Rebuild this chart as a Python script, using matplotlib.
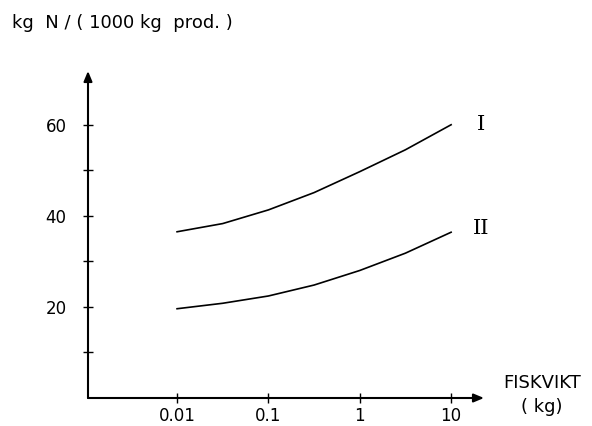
import matplotlib
matplotlib.use("Agg")
import matplotlib.pyplot as plt
import numpy as np

# data
fish_weight = [0.01, 0.0316, 0.1, 0.316, 1, 3.16, 10]
curve_I = [36.5, 38.3, 41.3, 45.1, 49.7, 54.5, 60.0]
curve_II = [19.6, 20.8, 22.4, 24.8, 28.0, 31.8, 36.4]
x_ticks = [0.01, 0.1, 1, 10]
x_tick_labels = ["0.01", "0.1", "1", "10"]
y_ticks = [10, 20, 30, 40, 50, 60]
y_tick_labels = ["", "20", "", "40", "", "60"]

fig = plt.figure(figsize=(5.92, 4.26), dpi=100)
ax = fig.add_axes([88/592, 1-398/426, (484-88)/592, (398-71)/426])

ax.set_xscale("log")
ax.set_xlim(10**-2.975, 10**1.36)
ax.set_ylim(0, 71.8)

ax.plot(fish_weight, curve_I, color="black", lw=1.2)
ax.plot(fish_weight, curve_II, color="black", lw=1.2)

for s in ax.spines.values():
    s.set_visible(False)

arrow = dict(arrowstyle="-|>,head_length=0.6,head_width=0.25", color="black", lw=1.5,
             shrinkA=0, shrinkB=0)
ax.annotate("", xy=(1, 0), xytext=(0, 0), xycoords="axes fraction",
            textcoords="axes fraction", arrowprops=arrow, annotation_clip=False)
ax.annotate("", xy=(0, 1), xytext=(0, 0), xycoords="axes fraction",
            textcoords="axes fraction", arrowprops=arrow, annotation_clip=False)

ax.set_xticks(x_ticks)
ax.set_xticklabels(x_tick_labels)
ax.minorticks_off()
ax.set_yticks(y_ticks)
ax.set_yticklabels(y_tick_labels)
ax.tick_params(axis="both", direction="inout", length=7, width=1.0, labelsize=12)
ax.tick_params(axis="y", pad=12)
ax.tick_params(axis="x", pad=3)

fig.text(12/592, 1-23/426, "kg  N / ( 1000 kg  prod. )", fontsize=13, va="center", ha="left")
fig.text(542/592, 1-383/426, "FISKVIKT", fontsize=13, va="center", ha="center")
fig.text(542/592, 1-407/426, "( kg)", fontsize=13, va="center", ha="center")

fig.text(481/592, 1-125/426, "I", fontsize=15, family="DejaVu Serif", va="center", ha="center")
fig.text(481/592, 1-229/426, "II", fontsize=15, family="DejaVu Serif", va="center", ha="center")

fig.savefig("out.png", dpi=100)
